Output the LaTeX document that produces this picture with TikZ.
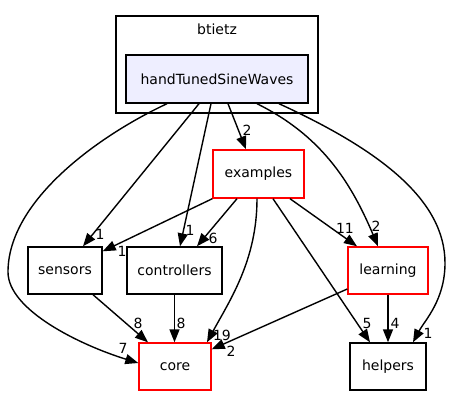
\documentclass[tikz,border=0pt]{standalone}
\usepackage{fontspec}
\setmainfont{DejaVu Sans}
\usepackage{tikz}
\usetikzlibrary{arrows.meta}
\definecolor{dirfill}{HTML}{EEEEFF}

\begin{document}
\begin{tikzpicture}[x=1pt, y=-1pt, font=\fontsize{14}{16}\selectfont]
    \tikzset{
        dirbox/.style={draw, line width=1.4pt, minimum height=47pt, inner sep=0pt},
        pkgbox/.style={dirbox, draw=red},
        depend/.style={-{Triangle[length=13pt, width=10pt]}, line width=1.4pt},
        edgelabel/.style={inner sep=0pt}
    }
    \useasboundingbox (0,0) rectangle (453,407);

    % cluster btietz
    \draw[line width=1.4pt] (116,16) rectangle (318,113);
    \node (btietz) at (217,29) {btietz};

    \node[dirbox, fill=dirfill, minimum width=182pt, minimum height=48pt] (hsw) at (217,79) {handTunedSineWaves};
    \node[pkgbox, minimum width=91pt, minimum height=48pt] (ex) at (258.5,174) {examples};
    \node[dirbox, minimum width=74pt] (sn) at (65,270.5) {sensors};
    \node[dirbox, minimum width=95pt] (ct) at (174.5,270.5) {controllers};
    \node[pkgbox, minimum width=80pt] (ln) at (388,270.5) {learning};
    \node[pkgbox, minimum width=72pt] (co) at (175,366.5) {core};
    \node[dirbox, minimum width=76pt] (hp) at (388,366.5) {helpers};

    % from handTunedSineWaves
    \draw[depend] ([xshift=11pt]hsw.south) -- ([xshift=-12.5pt]ex.north);
    \draw[depend] ([xshift=-18pt]hsw.south) -- ([xshift=18pt]sn.north);
    \draw[depend] ([xshift=-6pt]hsw.south) -- ([xshift=5.5pt]ct.north);
    \draw[depend] ([xshift=-50pt]hsw.south) .. controls (100,135) and (8,200) .. (8,272)
        .. controls (8,310) and (80,345) .. ([yshift=3.5pt]co.west);
    \draw[depend] ([xshift=40pt]hsw.south) .. controls (320,135) and (350,180) .. ([xshift=-10pt]ln.north);
    \draw[depend] ([xshift=62pt]hsw.south) .. controls (380,150) and (445,200) .. (445,263)
        .. controls (445,300) and (425,320) .. ([xshift=25pt]hp.north);

    % from examples
    \draw[depend] (ex.south west) -- ([yshift=-5pt]sn.north east);
    \draw[depend] ([xshift=-21.5pt]ex.south) -- ([xshift=22.5pt]ct.north);
    \draw[depend] ([xshift=-1.5pt]ex.south) .. controls (257,260) and (230,300) .. ([xshift=32pt]co.north);
    \draw[depend] ([xshift=31.5pt]ex.south) -- ([xshift=-31pt]ln.north);
    \draw[depend] ([xshift=14.5pt]ex.south) -- ([xshift=-18pt]hp.north);

    % lower level
    \draw[depend] (ln.south) -- (hp.north);
    \draw[depend] ([yshift=-18.5pt]ln.west) -- ([yshift=-7pt]co.north east);
    \draw[depend] ([xshift=28pt]sn.south) -- ([xshift=-27pt]co.north);
    \draw[depend] (ct.south) -- (ct.south |- co.north);

    % dependency counts
    \node[edgelabel] (n1) at (247,130) {2};
    \node[edgelabel] (n2) at (100,234) {1};
    \node[edgelabel] (n3) at (190,230) {1};
    \node[edgelabel] (n4) at (123,348) {7};
    \node[edgelabel] (n5) at (376,226) {2};
    \node[edgelabel] (n6) at (428,333) {1};
    \node[edgelabel] (n7) at (122,251) {1};
    \node[edgelabel] (n8) at (213,238) {6};
    \node[edgelabel] (n9) at (222,335) {19};
    \node[edgelabel] (n10) at (345,228) {11};
    \node[edgelabel] (n11) at (367,323) {5};
    \node[edgelabel] (n12) at (395,323) {4};
    \node[edgelabel] (n13) at (231,351) {2};
    \node[edgelabel] (n14) at (138,323) {8};
    \node[edgelabel] (n15) at (181,323) {8};
\end{tikzpicture}
\end{document}
